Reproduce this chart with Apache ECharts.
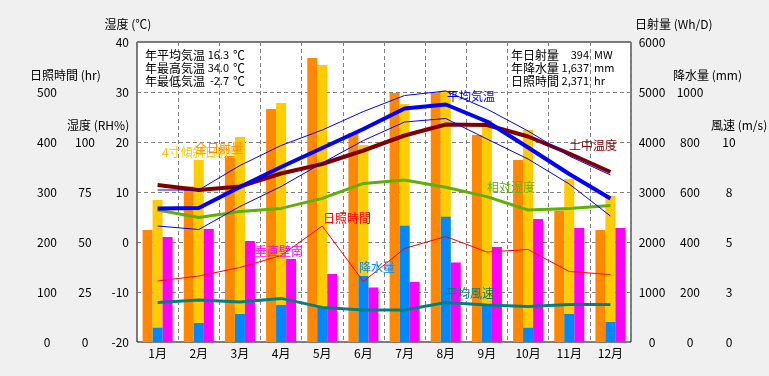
<!DOCTYPE html>
<html>
<head>
<meta charset="utf-8">
<script src="https://cdn.jsdelivr.net/npm/echarts@6/dist/echarts.min.js"></script>
<style>
    html, body { margin: 0; padding: 0; background: #f0f0f0; }
    #chart { width: 769px; height: 376px; }
</style>
</head>
<body>
<div id="chart"></div>
<script>
var months = ['1月', '2月', '3月', '4月', '5月', '6月', '7月', '8月', '9月', '10月', '11月', '12月'];

// 日射量 (Wh/D)
var globalRad = [2240, 3110, 3720, 4660, 5680, 4180, 4980, 4990, 4140, 3640, 2630, 2240];
var tiltRad = [2840, 3640, 4100, 4780, 5540, 3940, 4760, 5030, 4440, 4240, 3260, 2920];
var southWall = [2100, 2260, 2020, 1660, 1360, 1090, 1200, 1590, 1900, 2460, 2280, 2280];
// 降水量 (mm)
var rain = [57, 76, 112, 148, 140, 264, 465, 501, 152, 57, 112, 80];
// 日照時間 (hr)
var sunHours = [122, 132, 149, 173, 232, 121, 187, 211, 180, 185, 141, 135];
// 相対湿度 (RH%)
var humidity = [66, 62.3, 65.2, 66.8, 71.8, 79.3, 81, 77.4, 72.7, 66, 66.8, 68.2];
// 平均風速 (m/s)
var wind = [1.98, 2.1, 2.0, 2.18, 1.73, 1.6, 1.6, 1.98, 1.85, 1.77, 1.88, 1.88];
// 温度 (℃)
var soilTemp = [11.4, 10.4, 11.1, 13.7, 15.6, 18.3, 21.3, 23.5, 23.4, 21.1, 17.7, 14.0];
var tempMax = [10.4, 10.4, 15.3, 19.3, 22.4, 26.1, 29.3, 30.2, 26.6, 22.2, 17.2, 13.4];
var tempAvg = [6.7, 6.8, 11.0, 15.0, 18.8, 22.6, 26.7, 27.5, 24.1, 18.9, 13.6, 8.7];
var tempMin = [3.2, 2.5, 7.1, 11.1, 15.8, 20.3, 24.0, 24.7, 20.6, 16.6, 11.6, 5.2];

var font = '"Noto Sans CJK JP", sans-serif';

function txt(text, x, y, color, align, size) {
    return {
        type: 'text',
        x: x,
        y: y,
        z: 100,
        style: {
            text: text,
            fill: color || '#000',
            font: (size || 12) + 'px ' + font,
            textAlign: align || 'left',
            textVerticalAlign: 'middle'
        }
    };
}

function sideAxis(pos, min, max, interval, offset, margin, maxShown, fmt) {
    return {
        type: 'value',
        position: pos,
        min: min,
        max: max,
        interval: interval,
        offset: offset,
        axisLine: { show: false },
        axisTick: { show: false },
        splitLine: { show: false },
        axisLabel: {
            margin: margin,
            align: 'center',
            color: '#000',
            fontSize: 12,
            fontFamily: font,
            formatter: function (v) {
                if (v > maxShown) return '';
                return fmt ? fmt(v) : v;
            }
        }
    };
}

function lineSeries(name, data, yIdx, color, width) {
    return {
        name: name,
        type: 'line',
        xAxisIndex: 0,
        yAxisIndex: yIdx,
        data: data,
        showSymbol: false,
        symbol: 'none',
        lineStyle: { color: color, width: width },
        itemStyle: { color: color },
        z: 5
    };
}

var chart = echarts.init(document.getElementById('chart'));

var tempAxis = {
    type: 'value',
    position: 'left',
    min: -20,
    max: 40,
    interval: 10,
    axisLine: { show: false },
    axisTick: { show: false },
    splitLine: { show: true, lineStyle: { color: '#808080', type: [4, 3], width: 1 } },
    axisLabel: { margin: 8, color: '#000', fontSize: 12, fontFamily: font }
};

var option = {
    backgroundColor: '#f0f0f0',
    animation: false,
    textStyle: { fontFamily: font },
    grid: {
        left: 137, right: 138, top: 42, bottom: 34,
        show: true,
        backgroundColor: '#fff',
        borderColor: '#000',
        borderWidth: 1
    },
    xAxis: [
        {
            type: 'category',
            data: months,
            axisLine: { show: false },
            axisTick: { show: false },
            axisLabel: { margin: 5, color: '#000', fontSize: 12, fontFamily: font, interval: 0 },
            splitLine: { show: true, interval: 0, lineStyle: { color: '#808080', type: [4, 3], width: 1 } }
        },
        {
            type: 'category',
            data: months,
            show: false
        }
    ],
    yAxis: [
        tempAxis,
        sideAxis('left', 0, 600, 100, 80, 10, 500),
        sideAxis('left', 0, 150, 25, 42, 10, 100),
        sideAxis('right', 0, 6000, 1000, 0, 21, 6000),
        sideAxis('right', 0, 1200, 200, 49, 10, 1000),
        sideAxis('right', 0, 15, 2.5, 88, 10, 10, function (v) { return Math.round(v); })
    ],
    series: [
        { name: '全日射量', type: 'bar', xAxisIndex: 0, yAxisIndex: 3, data: globalRad, barWidth: 10, barGap: '0%', itemStyle: { color: '#ff8800' } },
        { name: '4寸傾斜日射量', type: 'bar', xAxisIndex: 0, yAxisIndex: 3, data: tiltRad, barWidth: 10, barGap: '0%', itemStyle: { color: '#ffcc00' } },
        { name: '垂直壁南', type: 'bar', xAxisIndex: 0, yAxisIndex: 3, data: southWall, barWidth: 10, barGap: '0%', itemStyle: { color: '#ff00ff' } },
        { name: '降水量', type: 'bar', xAxisIndex: 1, yAxisIndex: 4, data: rain, barWidth: 10, itemStyle: { color: '#0088ff' }, z: 3 },
        lineSeries('日照時間', sunHours, 1, '#ff0000', 1),
        lineSeries('相対湿度', humidity, 2, '#5fb000', 3),
        lineSeries('平均風速', wind, 5, '#008080', 3),
        lineSeries('土中温度', soilTemp, 0, '#800000', 4),
        lineSeries('最高気温', tempMax, 0, '#0000ff', 1),
        lineSeries('最低気温', tempMin, 0, '#0000ff', 1),
        lineSeries('平均気温', tempAvg, 0, '#0000ff', 4)
    ],
    graphic: [
        // axis names
        txt('湿度 (℃)', 128, 24, '#000', 'center'),
        txt('日照時間 (hr)', 30, 75),
        txt('湿度 (RH%)', 67, 125),
        txt('日射量 (Wh/D)', 635, 24),
        txt('降水量 (mm)', 673, 75),
        txt('風速 (m/s)', 711, 125),
        // yearly figures
        txt('年平均気温', 145, 55), txt('16.3', 229, 55, '#000', 'right', 11), txt('℃', 233, 55),
        txt('年最高気温', 145, 68), txt('34.0', 229, 68, '#000', 'right', 11), txt('℃', 233, 68),
        txt('年最低気温', 145, 81), txt('-2.7', 229, 81, '#000', 'right', 11), txt('℃', 233, 81),
        txt('年日射量', 511, 55), txt('394', 589, 55, '#000', 'right', 11), txt('MW', 594, 55, '#000', 'left', 11),
        txt('年降水量', 511, 68), txt('1,637', 589, 68, '#000', 'right', 11), txt('mm', 594, 68, '#000', 'left', 11),
        txt('日照時間', 511, 81), txt('2,371', 589, 81, '#000', 'right', 11), txt('hr', 594, 81, '#000', 'left', 11),
        // series names
        txt('4寸傾斜日射量', 162, 152, '#ffcc00'),
        txt('全日射量', 195, 148, '#ff8800'),
        txt('平均気温', 447, 96, '#0000ff'),
        txt('土中温度', 569, 145, '#800000'),
        txt('相対湿度', 487, 187, '#5fb000'),
        txt('日照時間', 323, 218, '#ff0000'),
        txt('垂直壁南', 255, 251, '#ff00ff'),
        txt('降水量', 359, 267, '#0088ff'),
        txt('平均風速', 446, 293, '#008080')
    ]
};

chart.setOption(option);
</script>
</body>
</html>
